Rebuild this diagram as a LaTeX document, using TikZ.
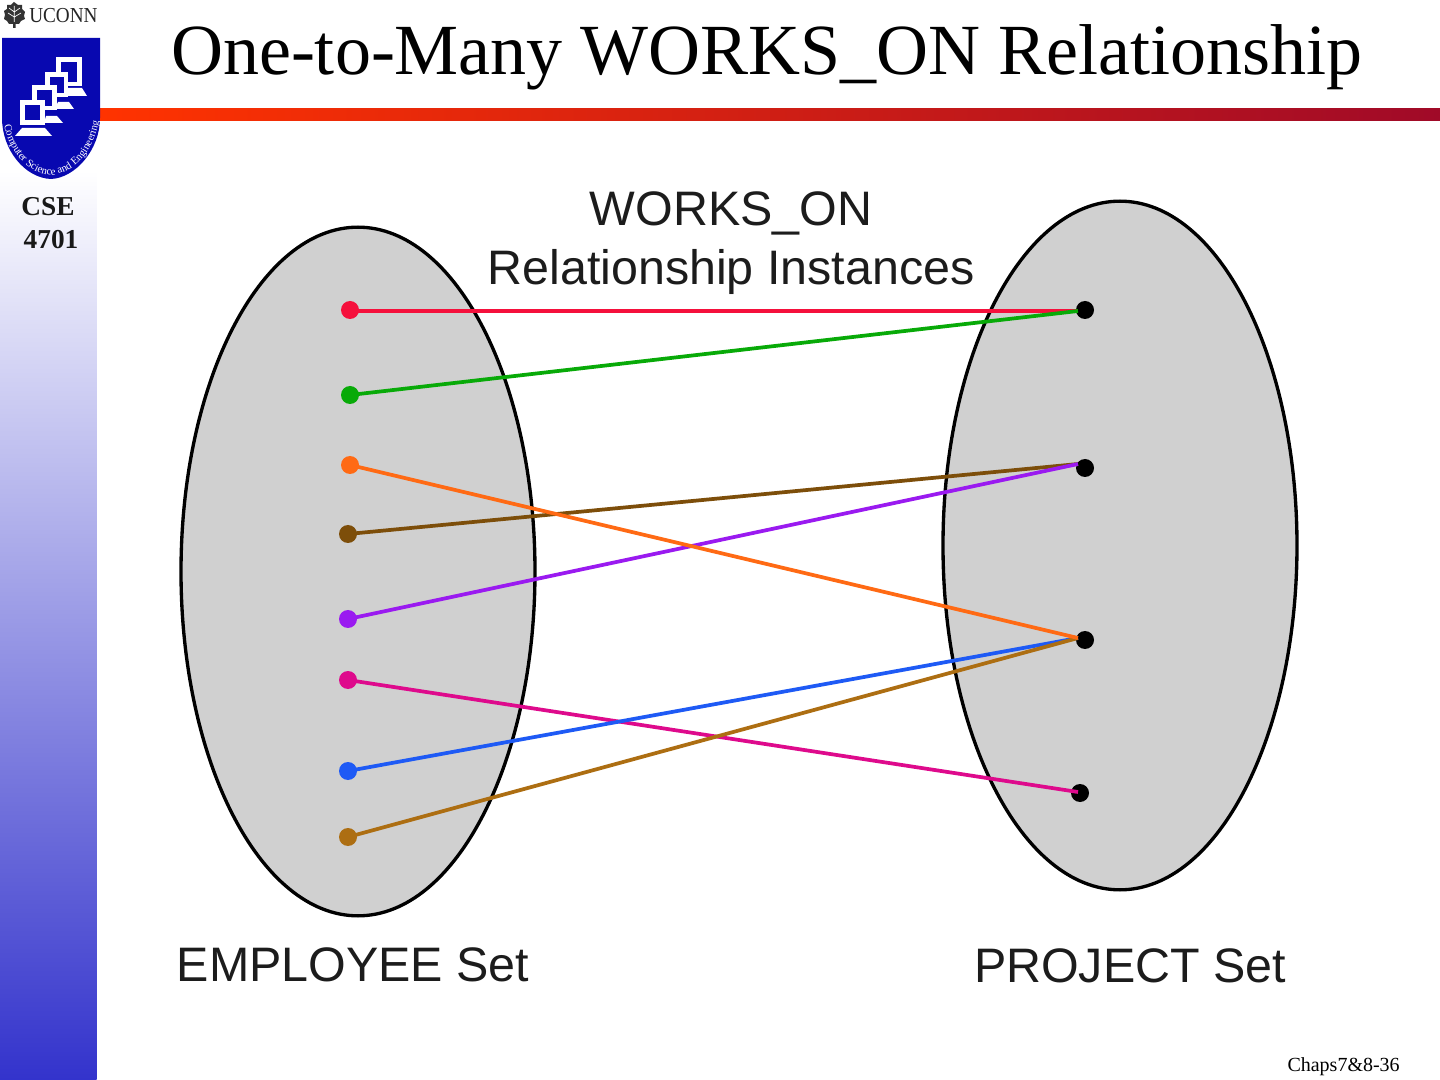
\documentclass[tikz,border=0pt]{standalone}
\usepackage{fontspec}
\setmainfont{Liberation Serif}
\setsansfont{Liberation Sans}
\usetikzlibrary{decorations.text,shapes.geometric}
\definecolor{ell}{HTML}{D0D0D0}
\definecolor{cred}{HTML}{F5103C}
\definecolor{cgreen}{HTML}{08AA08}
\definecolor{corange}{HTML}{FF6A14}
\definecolor{cbrown}{HTML}{7D4E0A}
\definecolor{cpurple}{HTML}{9A1AF0}
\definecolor{cmag}{HTML}{DE0A8C}
\definecolor{cblue}{HTML}{1E5AF5}
\definecolor{cgold}{HTML}{AD6E12}
\definecolor{shield}{HTML}{0808B0}
\definecolor{side}{HTML}{3333CC}
\definecolor{lab}{HTML}{1C1C1C}
\tikzset{
  setshape/.style={ellipse,draw=black,fill=ell,line width=2.5pt,minimum width=265.5pt,minimum height=516.5pt,inner sep=0pt},
  dotn/.style={circle,fill=#1,inner sep=0pt,minimum size=13.5pt},
  link/.style={line width=2.8pt,draw=#1},
  lbl/.style={font=\sffamily\fontsize{36.3}{40}\selectfont,text=lab,inner sep=0pt},
  monitor/.style={draw=white,line width=3.6pt,fill=shield}
}
\begin{document}
\begin{tikzpicture}[x=0.75pt,y=-0.75pt]
\useasboundingbox (0,0) rectangle (1440,1080);
\fill[white] (0,0) rectangle (1440,1080);
% sidebar
\shade[top color=white,bottom color=side] (0,170) rectangle (96.5,1080);
% header bar
\shade[left color={rgb,255:red,255;green,51;blue,0},right color={rgb,255:red,160;green,10;blue,40}] (100,108.5) rectangle (1440,121);
% logo
\fill[shield] (2,38) -- (100,38) -- (100,118) .. controls (100,150) and (75,178) .. (51,179) .. controls (25,178) and (2,150) .. (2,118) -- cycle;
% back to front: stand, then monitor
\fill[white] (68,88) -- (82,88) -- (87,96) -- (66,96) -- cycle;
\draw[monitor] (58.5,59.5) rectangle (79.5,84);
\fill[white] (58,102) -- (69,102) -- (74,109) -- (55,109) -- cycle;
\draw[monitor] (47.5,74.5) rectangle (66,95);
\fill[white] (46,116) -- (57,116) -- (63,123) -- (44,123) -- cycle;
\draw[monitor] (34.5,87.5) rectangle (54.5,108);
\fill[white] (22,128) -- (45,128) -- (52,136) -- (15,136) -- cycle;
\draw[monitor] (22.5,102.5) rectangle (42.5,122.5);
\path[postaction={decorate,decoration={text along path,text align=center,
  text={|\fontsize{8}{8}\selectfont\color{white}|Computer Science and Engineering}}}]
  (4,124) .. controls (10,155) and (30,174) .. (51,175) .. controls (72,174) and (93,155) .. (99,120);
% UCONN crest
\fill[black!80] (14,2) -- (18,5) -- (22,5) -- (22,9) -- (25,12) -- (24,16) -- (25,19) -- (21,21) -- (19,24) -- (15.5,24) -- (15.5,28) -- (13,28) -- (13,24) -- (9,24) -- (7,21) -- (4,19) -- (5,15) -- (4,11) -- (7,9) -- (7,5) -- (11,5) -- cycle;
\draw[white,line width=0.5pt] (14.3,6) -- (14.3,22) (14.3,12) -- (9,8) (14.3,12) -- (20,8) (14.3,17) -- (8,13) (14.3,17) -- (21,13);
\node[anchor=west,inner sep=0pt,text=black!85,font=\fontsize{16}{16}\selectfont] (uconn) at (29,15.5) {\scalebox{0.9}[1]{UCONN}};
\node[font=\bfseries\fontsize{20.5}{24}\selectfont,inner sep=0pt,anchor=base,text=black!90] (cse) at (48,216) {CSE};
\node[font=\bfseries\fontsize{20.5}{24}\selectfont,inner sep=0pt,anchor=base,text=black!90] (num) at (51,249) {4701};
% title
\node[font=\fontsize{54}{60}\selectfont,inner sep=0pt,anchor=base,text=black] (title) at (767,75) {One-to-Many WORKS\_ON Relationship};
% sets
\node[setshape] (emp) at (358,571.5) {};
\node[setshape] (proj) at (1120,545.5) {};
% labels
\node[lbl,anchor=base] (l1) at (731,226) {WORKS\_ON};
\node[lbl,anchor=base] (l2) at (731,285) {Relationship Instances};
\node[lbl,anchor=base] (l3) at (353,981) {EMPLOYEE Set};
\node[lbl,anchor=base] (l4) at (1130,982) {PROJECT Set};
\node[font=\fontsize{15}{15}\selectfont,anchor=base east,inner sep=0pt] (pg) at (1400,1071) {Chaps7\&8-36};
% dots
\node[dotn=cred] (e1) at (350,310) {};
\node[dotn=cgreen] (e2) at (350,395) {};
\node[dotn=corange] (e3) at (350,465) {};
\node[dotn=cbrown] (e4) at (348,534) {};
\node[dotn=cpurple] (e5) at (348,619) {};
\node[dotn=cmag] (e6) at (348,680) {};
\node[dotn=cblue] (e7) at (348,771) {};
\node[dotn=cgold] (e8) at (348,837) {};
\node[dotn=black] (p1) at (1085,310) {};
\node[dotn=black] (p2) at (1085,468) {};
\node[dotn=black] (p3) at (1085,640) {};
\node[dotn=black] (p4) at (1080,793) {};
\coordinate (a1) at (1078,311);
\coordinate (a2) at (1078,464);
\coordinate (a3) at (1078,638);
\coordinate (a4) at (1078,792);
\coordinate (s1) at (350,311);
% links
\draw[link=cred] (s1) -- (a1);
\draw[link=cgreen] (e2.center) -- (a1);
\draw[link=cbrown] (e4.center) -- (a2);
\draw[link=cpurple] (e5.center) -- (a2);
\draw[link=cmag] (e6.center) -- (a4);
\draw[link=cblue] (e7.center) -- (a3);
\draw[link=cgold] (e8.center) -- (a3);
\draw[link=corange] (e3.center) -- (a3);
\end{tikzpicture}
\end{document}
